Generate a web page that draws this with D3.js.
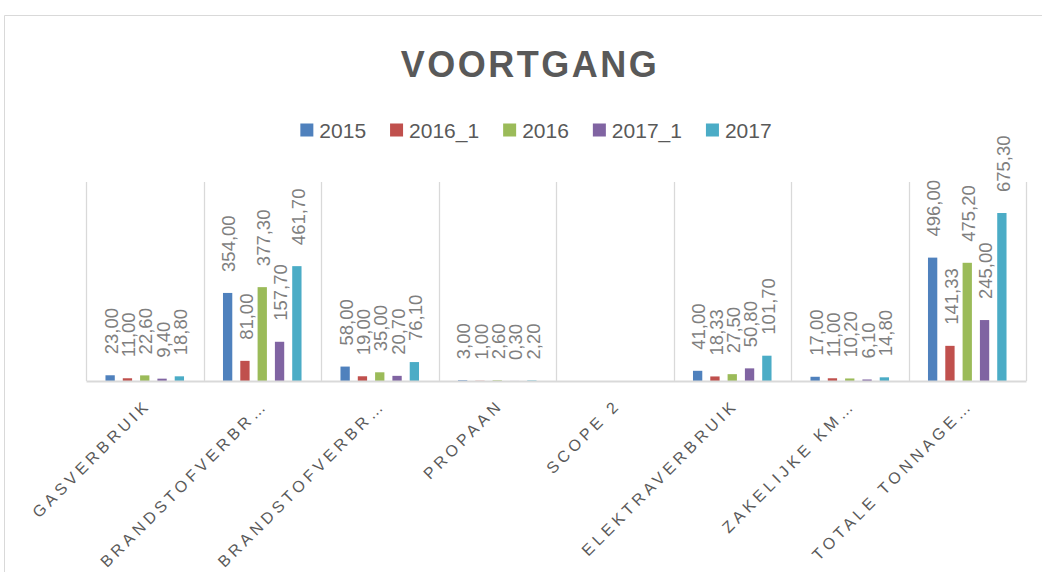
<!DOCTYPE html>
<html>
<head>
<meta charset="utf-8">
<script src="https://cdn.jsdelivr.net/npm/d3@7"></script>
<style>
  html, body { margin: 0; padding: 0; background: #fff; }
  svg { display: block; }
</style>
</head>
<body>
<svg id="chart" width="1042" height="572"></svg>
<script>
// ---- data ----
const title = "VOORTGANG";
const categories = ["GASVERBRUIK", "BRANDSTOFVERBR…", "BRANDSTOFVERBR…", "PROPAAN", "SCOPE 2", "ELEKTRAVERBRUIK", "ZAKELIJKE KM…", "TOTALE TONNAGE…"];
const seriesNames = ["2015", "2016_1", "2016", "2017_1", "2017"];
const s2015   = [23.00, 354.00, 58.00, 3.00, null, 41.00, 17.00, 496.00];
const s2016_1 = [11.00, 81.00, 19.00, 1.00, null, 18.33, 11.00, 141.33];
const s2016   = [22.60, 377.30, 35.00, 2.60, null, 27.50, 10.20, 475.20];
const s2017_1 = [9.40, 157.70, 20.70, 0.30, null, 50.80, 6.10, 245.00];
const s2017   = [18.80, 461.70, 76.10, 2.20, null, 101.70, 14.80, 675.30];
const seriesValues = [s2015, s2016_1, s2016, s2017_1, s2017];
const colors = ["#4F81BD", "#C0504D", "#9BBB59", "#8064A2", "#4BACC6"];
const yDomain = [0, 800];

// ---- layout ----
const svg = d3.select("#chart");
const plot = { left: 86, right: 1026, top: 182, bottom: 381 };
const font = "'Liberation Sans', Arial, sans-serif";

// chart border
svg.append("path")
  .attr("d", "M4.5,600 L4.5,15.5 L1100,15.5")
  .attr("fill", "none").attr("stroke", "#d9d9d9").attr("stroke-width", 1);

// title
svg.append("text")
  .attr("x", 530).attr("y", 76.5)
  .attr("text-anchor", "middle")
  .attr("font-family", font).attr("font-weight", "bold")
  .attr("font-size", 36).attr("letter-spacing", "2.5px")
  .attr("fill", "#595959")
  .text(title);

// scales
const keys = categories.map((c, i) => i);
const x0 = d3.scaleBand().domain(keys).range([plot.left, plot.right]).paddingInner(0).paddingOuter(0);
const x1 = d3.scaleBand().domain(seriesNames).range([0, x0.bandwidth()]).paddingInner(0.4624).paddingOuter(1.125);
const y = d3.scaleLinear().domain(yDomain).range([plot.bottom, plot.top]);

// category separators (vertical gridlines)
const g = svg.append("g");
const bounds = keys.map(k => x0(k)).concat([plot.right]);
g.selectAll("line.sep").data(bounds).join("line")
  .attr("class", "sep")
  .attr("x1", d => Math.round(d) + 0.5).attr("x2", d => Math.round(d) + 0.5)
  .attr("y1", plot.top).attr("y2", plot.bottom)
  .attr("stroke", "#d9d9d9").attr("stroke-width", 1.3);

// bars
const fmt = d3.formatLocale({ decimal: ",", thousands: ".", grouping: [3], currency: ["", ""] }).format(".2f");
const barData = [];
seriesNames.forEach((s, si) => {
  seriesValues[si].forEach((v, ci) => {
    if (v !== null) barData.push({ s, si, ci, v });
  });
});

svg.append("g").selectAll("rect").data(barData).join("rect")
  .attr("x", d => x0(d.ci) + x1(d.s))
  .attr("y", d => y(d.v))
  .attr("width", x1.bandwidth())
  .attr("height", d => y(0) - y(d.v))
  .attr("fill", d => colors[d.si]);

// baseline axis (drawn over bars)
const xAxis = d3.axisBottom(x0).tickSize(0).tickFormat(() => "");
const axG = svg.append("g").attr("transform", `translate(0,${plot.bottom})`).call(xAxis);
axG.select(".domain").attr("stroke", "#d9d9d9").attr("stroke-width", 2);

// data labels (rotated)
svg.append("g").selectAll("text").data(barData).join("text")
  .attr("transform", d => `translate(${x0(d.ci) + x1(d.s) + x1.bandwidth() / 2 + 1},${y(d.v) - 21}) rotate(-90)`)
  .attr("dy", "0.36em")
  .attr("font-family", font).attr("font-size", 18.5)
  .attr("fill", "#7f7f7f")
  .text(d => fmt(d.v));

// category labels
svg.append("g").selectAll("text").data(keys).join("text")
  .attr("transform", k => `translate(${x0(k) + x0.bandwidth() / 2 + 7},${plot.bottom + 25}) rotate(-45)`)
  .attr("text-anchor", "end")
  .attr("font-family", font).attr("font-size", 16)
  .attr("letter-spacing", "4px")
  .attr("fill", "#595959")
  .text(k => categories[k]);

// legend
const leg = svg.append("g");
let lx = 0;
seriesNames.forEach((s, i) => {
  const it = leg.append("g");
  it.append("rect").attr("x", 0).attr("y", -14).attr("width", 13).attr("height", 13).attr("fill", colors[i]);
  const t = it.append("text").attr("x", 19).attr("y", 0)
    .attr("font-family", font).attr("font-size", 21).attr("fill", "#595959").text(s);
  const w = t.node().getComputedTextLength();
  it.attr("transform", `translate(${lx},0)`);
  lx += 19 + w + 24;
});
const legW = lx - 24;
leg.attr("transform", `translate(${536 - legW / 2},137.5)`);
</script>
</body>
</html>
